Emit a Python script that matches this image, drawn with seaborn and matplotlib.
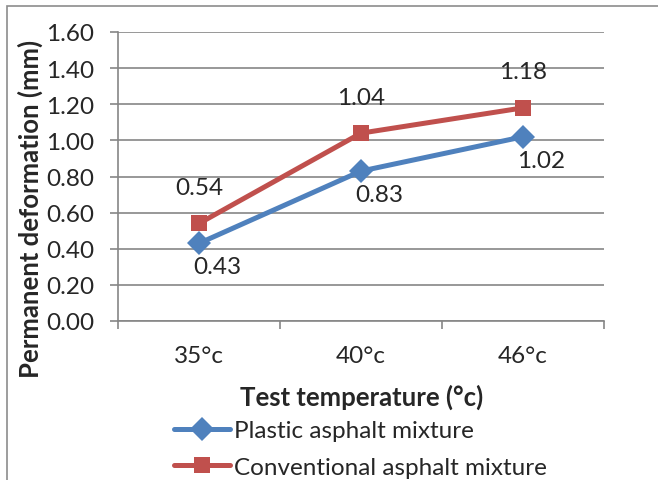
import matplotlib
matplotlib.use("Agg")
import matplotlib.pyplot as plt
import seaborn as sns
import pandas as pd
from matplotlib.patches import Rectangle
from matplotlib.lines import Line2D

categories = ["35°c", "40°c", "46°c"]
plastic = [0.43, 0.83, 1.02]
conventional = [0.54, 1.04, 1.18]
series_names = ["Plastic asphalt mixture", "Conventional asphalt mixture"]
y_ticks = [0.0, 0.2, 0.4, 0.6, 0.8, 1.0, 1.2, 1.4, 1.6]

sns.set_theme(style="white")
plt.rcParams['font.family'] = ['Lato', 'DejaVu Sans']

BLUE = "#4F81BD"
RED = "#C0504D"
GRID = "#868686"
FS = 17.5
LW = 3.6
MS = 12

rows = []
for i, c in enumerate(categories):
    rows.append({"idx": i, "cat": c, "value": plastic[i], "series": series_names[0]})
for i, c in enumerate(categories):
    rows.append({"idx": i, "cat": c, "value": conventional[i], "series": series_names[1]})
df = pd.DataFrame(rows)

fig = plt.figure(figsize=(6.58, 4.81), dpi=100)
ax = fig.add_axes([118/658, 1-322/481, (604-118)/658, (322-33)/481])

# frame around chart
fig.patches.append(Rectangle((7/658, -0.1), 1.2, 1-7/481+0.1, transform=fig.transFigure,
                             fill=False, edgecolor="#8c8c8c", linewidth=1.2, zorder=0))

sns.lineplot(data=df, x="idx", y="value", hue="series", style="series",
             palette=[BLUE, RED], markers={series_names[0]: "D", series_names[1]: "s"},
             dashes=False, linewidth=LW, markersize=MS, markeredgewidth=0,
             legend=False, ax=ax)

ax.set_xlim(-0.5, len(categories) - 0.5)
ax.set_ylim(0, 1.6)
ax.set_yticks(y_ticks)
ax.set_yticklabels([f"{v:.2f}" for v in y_ticks])
ax.set_xticks(range(len(categories)))
ax.set_xticklabels(categories)
ax.set_xticks([i - 0.5 for i in range(len(categories) + 1)], minor=True)
ax.yaxis.grid(True, color=GRID, linewidth=1.2)
ax.set_axisbelow(True)
for s in ["top", "right"]:
    ax.spines[s].set_visible(False)
ax.spines["left"].set_color(GRID)
ax.spines["bottom"].set_color(GRID)
ax.spines["left"].set_linewidth(1.2)
ax.spines["bottom"].set_linewidth(1.2)
ax.tick_params(axis="y", which="major", length=6, color=GRID, width=1.2, pad=11,
               labelsize=FS, left=True)
ax.tick_params(axis="x", which="major", length=0, pad=17, labelsize=FS, bottom=True)
ax.tick_params(axis="x", which="minor", length=6, color=GRID, width=1.2, bottom=True)
ax.set_xlabel("")
ax.set_ylabel("")

for i, v in enumerate(plastic):
    ax.annotate(f"{v:.2f}", (i, v), xytext=(13, -17), textcoords="offset points",
                ha="center", va="center", fontsize=FS)
for i, v in enumerate(conventional):
    ax.annotate(f"{v:.2f}", (i, v), xytext=(0, 26), textcoords="offset points",
                ha="center", va="center", fontsize=FS)

fig.text(30/658, 1-209/481, "Permanent deformation (mm)", rotation=90, ha="center", va="center",
         fontsize=18.5, fontweight="bold")
fig.text(362/658, 1-397/481, "Test temperature (°c)", ha="center", va="center",
         fontsize=18.5, fontweight="bold")

handles = [Line2D([], [], color=BLUE, marker="D", linewidth=LW, markersize=MS, markeredgewidth=0),
           Line2D([], [], color=RED, marker="s", linewidth=LW, markersize=MS, markeredgewidth=0)]
fig.legend(handles, series_names, loc="upper left", bbox_to_anchor=(174/658, 1-421/481),
           frameon=False, fontsize=FS, handlelength=2.3, handletextpad=0.15,
           labelspacing=0.65, borderpad=0, borderaxespad=0)

fig.savefig("out.png", dpi=100)
